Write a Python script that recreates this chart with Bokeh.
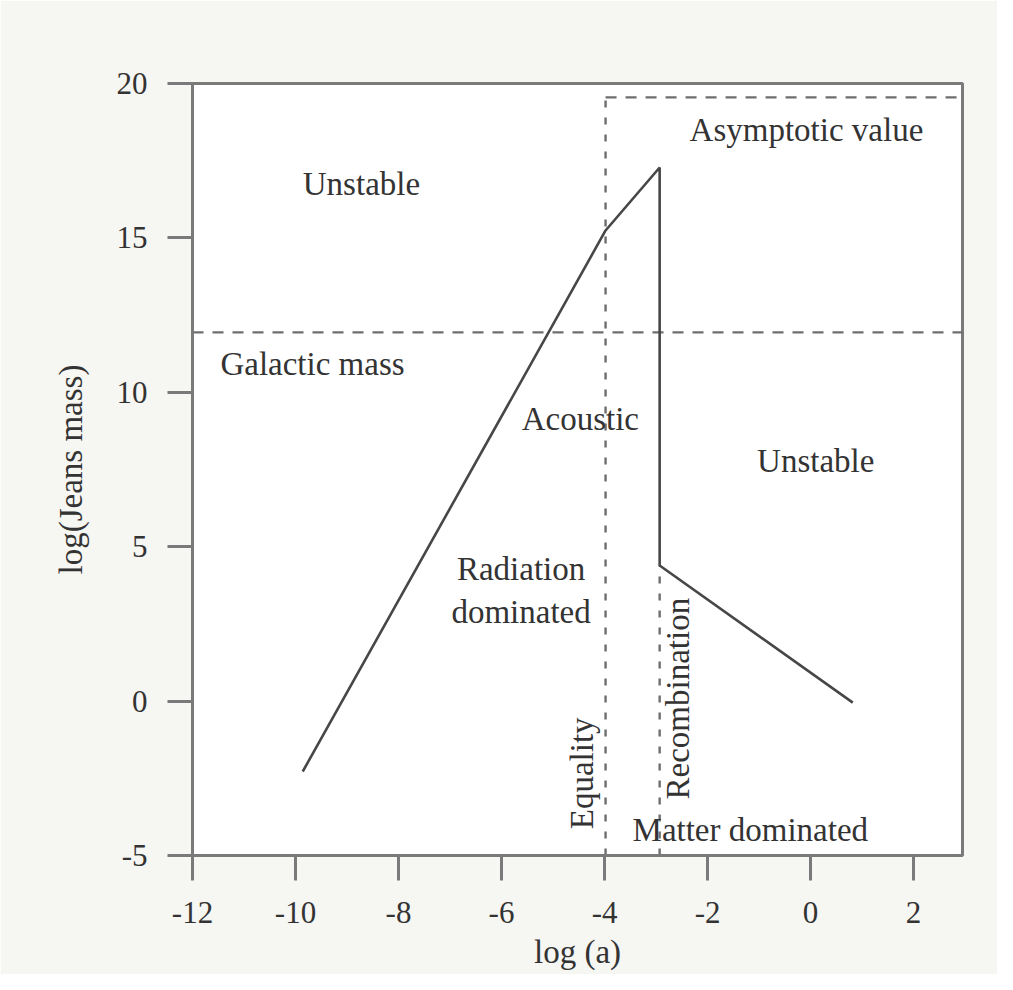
import math
from bokeh.plotting import figure
from bokeh.models import ColumnDataSource, FixedTicker
from bokeh.core.properties import value
from bokeh.embed import file_html
from bokeh.resources import INLINE

# ---- data ----
x_ticks = [-12, -10, -8, -6, -4, -2, 0, 2]
y_ticks = [-5, 0, 5, 10, 15, 20]

# Jeans mass curve: log(a) vs log(M_J)
curve_x = [-9.86, -3.98, -2.93, -2.93, 0.82]
curve_y = [-2.28, 15.24, 17.28, 4.39, -0.05]

equality_x = -3.98        # log a at matter-radiation equality
recombination_x = -2.93   # log a at recombination
galactic_mass_y = 11.94   # log galactic mass
asymptotic_y = 19.55      # asymptotic Jeans mass
y_floor = -5
x_ceiling = 2.95

region_labels = ["Unstable", "Galactic mass", "Asymptotic value", "Acoustic",
                 "Unstable", "Radiation\ndominated", "Matter dominated"]
region_x = [-8.72, -9.67, -0.08, -4.47, 0.10, -5.62, -1.17]
region_y = [16.76, 10.93, 18.48, 9.15, 7.79, 3.58, -4.19]

vertical_labels = ["Equality", "Recombination"]
vertical_x = [-4.43, -2.58]
vertical_y = [-2.34, 0.08]

FONT = "Liberation Serif"
TXT = "#333333"
GREY = "#7a7a7a"

p = figure(width=997, height=974, x_range=(-12, x_ceiling), y_range=(y_floor, 20),
           output_backend="svg", toolbar_location=None,
           min_border_left=192, min_border_right=35,
           min_border_top=83, min_border_bottom=119)

p.xgrid.visible = False
p.ygrid.visible = False
p.background_fill_color = "white"
p.border_fill_color = "#f6f6f2"
p.outline_line_color = GREY
p.outline_line_width = 3

for ax, ticks in ((p.xaxis, x_ticks), (p.yaxis, y_ticks)):
    ax.ticker = FixedTicker(ticks=ticks)
    ax.major_label_overrides = {t: str(t) for t in ticks}
    ax.minor_tick_line_color = None
    ax.major_tick_in = 0
    ax.major_tick_out = 25
    ax.axis_line_color = GREY
    ax.axis_line_width = 3
    ax.major_tick_line_color = GREY
    ax.major_tick_line_width = 3
    ax.major_label_text_font = FONT
    ax.major_label_text_font_size = "31px"
    ax.major_label_text_color = TXT
    ax.axis_label_text_font = FONT
    ax.axis_label_text_font_size = "33px"
    ax.axis_label_text_font_style = "normal"
    ax.axis_label_text_color = TXT

p.xaxis.axis_label = "log (a)"
p.yaxis.axis_label = "log(Jeans mass)"
p.xaxis.major_label_standoff = 21
p.xaxis.axis_label_standoff = 8
p.yaxis.major_label_standoff = 20
p.yaxis.axis_label_standoff = 25

# dashed reference lines
hdash = "11 9"
vdash = "7 10"
p.line([-12, x_ceiling], [galactic_mass_y, galactic_mass_y],
       line_color="#6e6e6e", line_width=2.2, line_dash=hdash)
p.line([equality_x, x_ceiling], [asymptotic_y, asymptotic_y],
       line_color="#6e6e6e", line_width=2.2, line_dash=hdash)
p.line([equality_x, equality_x], [y_floor, asymptotic_y],
       line_color="#6e6e6e", line_width=2.4, line_dash=vdash)
p.line([recombination_x, recombination_x], [y_floor, curve_y[3]],
       line_color="#6e6e6e", line_width=2.4, line_dash=vdash)

# Jeans mass curve
p.line(curve_x, curve_y, line_color="#474747", line_width=2.6)

src = ColumnDataSource(dict(x=region_x, y=region_y, t=region_labels))
p.text(x="x", y="y", text="t", source=src, text_font=value(FONT),
       text_font_size="33px", text_color=TXT, text_align="center",
       text_baseline="middle", text_line_height=1.2)

vsrc = ColumnDataSource(dict(x=vertical_x, y=vertical_y, t=vertical_labels))
p.text(x="x", y="y", text="t", source=vsrc, angle=math.pi / 2,
       text_font=value(FONT), text_font_size="33px", text_color=TXT,
       text_align="center", text_baseline="middle")

open("out.html", "w").write(file_html(p, INLINE))
